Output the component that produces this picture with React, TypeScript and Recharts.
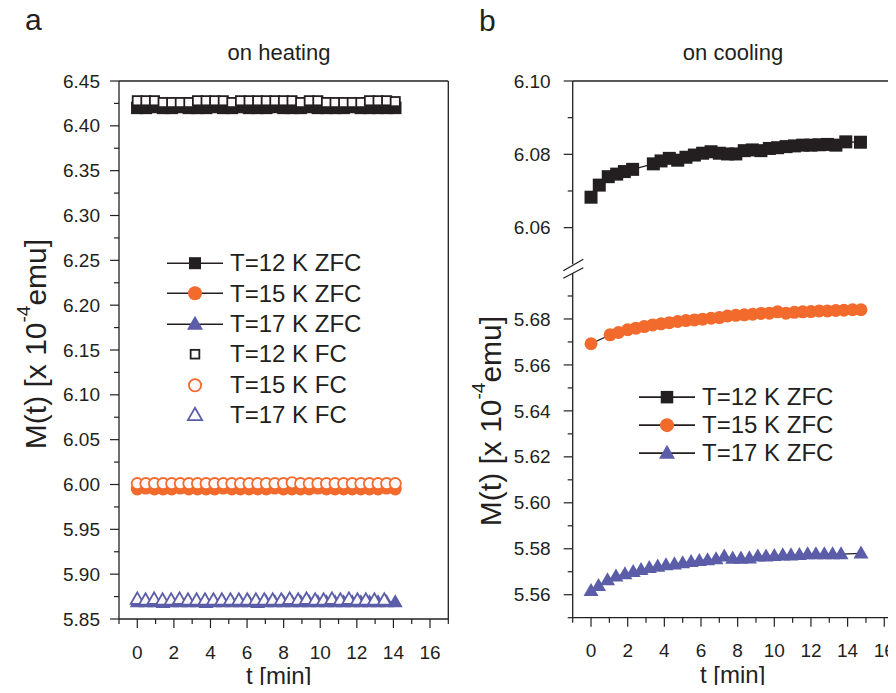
import React from "react";
import { LineChart, Line, XAxis, YAxis, ReferenceLine, Legend } from "recharts";

const INK = "#231f20";
const ORANGE = "#f26a2c";
const BLUE = "#5b5da8";
const PAPER = "#fbf9f9";
const FONT = "'Liberation Sans', Arial, Helvetica, sans-serif";

// shared minute ticks (labels only on even minutes)
const minuteTicks = [-1, 0, 1, 2, 3, 4, 5, 6, 7, 8, 9, 10, 11, 12, 13, 14, 15, 16, 17];

// panel a: on heating
const heatTicks = [
  5.85, 5.875, 5.9, 5.925, 5.95, 5.975, 6.0, 6.025, 6.05, 6.075, 6.1, 6.125, 6.15,
  6.175, 6.2, 6.225, 6.25, 6.275, 6.3, 6.325, 6.35, 6.375, 6.4, 6.425, 6.45,
];
const heatT = [
  0, 0.47, 0.94, 1.41, 1.88, 2.35, 2.82, 3.29, 3.76, 4.23, 4.7, 5.17, 5.64, 6.11, 6.58, 7.05,
  7.52, 7.99, 8.46, 8.93, 9.4, 9.87, 10.34, 10.81, 11.28, 11.75, 12.22, 12.69, 13.16, 13.63, 14.1,
];
const heatT17fc = [
  0, 0.45, 0.92, 1.38, 1.85, 2.31, 2.77, 3.24, 3.7, 4.16, 4.62, 5.09, 5.55, 6.01, 6.48, 6.94,
  7.4, 7.87, 8.33, 8.79, 9.25, 9.72, 10.18, 10.64, 11.1, 11.57, 12.03, 12.49, 12.96, 13.5,
];
const heatZfc12 = [
  6.42, 6.42, 6.421, 6.42, 6.42, 6.421, 6.42, 6.42, 6.42, 6.421, 6.42, 6.42, 6.421, 6.42, 6.42, 6.42,
  6.421, 6.42, 6.42, 6.42, 6.421, 6.42, 6.42, 6.42, 6.42, 6.421, 6.42, 6.42, 6.42, 6.42, 6.42,
];
const heatFc12 = [
  6.428, 6.428, 6.428, 6.426, 6.426, 6.426, 6.426, 6.428, 6.428, 6.428, 6.428, 6.426, 6.428, 6.428, 6.428, 6.428,
  6.428, 6.428, 6.428, 6.426, 6.428, 6.428, 6.426, 6.426, 6.426, 6.426, 6.426, 6.428, 6.428, 6.428, 6.427,
];
const heatZfc15 = [
  5.995, 5.996, 5.995, 5.995, 5.995, 5.996, 5.995, 5.995, 5.995, 5.995, 5.996, 5.995, 5.995, 5.995, 5.995, 5.995,
  5.996, 5.995, 5.995, 5.995, 5.995, 5.996, 5.995, 5.995, 5.995, 5.995, 5.995, 5.995, 5.995, 5.996, 5.995,
];
const heatFc15 = [
  6.001, 6.001, 6.001, 6.001, 6.001, 6.001, 6.001, 6.001, 6.001, 6.001, 6.001, 6.001, 6.001, 6.001, 6.001, 6.001,
  6.001, 6.001, 6.002, 6.001, 6.001, 6.001, 6.001, 6.001, 6.001, 6.001, 6.001, 6.001, 6.001, 6.001, 6.001,
];
const heatZfc17 = [
  5.869, 5.869, 5.869, 5.868, 5.869, 5.869, 5.869, 5.869, 5.868, 5.869, 5.869, 5.869, 5.869, 5.869, 5.868, 5.869,
  5.869, 5.869, 5.869, 5.869, 5.869, 5.869, 5.869, 5.869, 5.869, 5.869, 5.869, 5.869, 5.869, 5.869, 5.869,
];
const heatFc17 = [
  5.872, 5.871, 5.872, 5.871, 5.871, 5.872, 5.871, 5.871, 5.871, 5.871, 5.871, 5.871, 5.871, 5.871, 5.871, 5.871,
  5.871, 5.871, 5.872, 5.871, 5.872, 5.871, 5.871, 5.872, 5.871, 5.872, 5.871, 5.871, 5.871, 5.871,
];

// panel b: on cooling
const coolTopTicks = [6.06, 6.07, 6.08, 6.09, 6.1];
const coolLowTicks = [5.55, 5.56, 5.57, 5.58, 5.59, 5.6, 5.61, 5.62, 5.63, 5.64, 5.65, 5.66, 5.67, 5.68, 5.69];
const coolT12 = [
  0, 0.45, 0.94, 1.4, 1.82, 2.27, 3.4, 3.82, 4.27, 4.73, 5.18, 5.64, 6.09, 6.55, 7.0, 7.45,
  7.9, 8.36, 8.8, 9.27, 9.73, 10.18, 10.64, 11.1, 11.55, 12.0, 12.45, 12.9, 13.36, 13.9, 14.7,
];
const coolZfc12 = [
  6.0683, 6.0716, 6.0739, 6.0746, 6.0753, 6.0759, 6.0774, 6.0782, 6.0789, 6.0784, 6.0792, 6.0798, 6.0803, 6.0807, 6.0803, 6.0801,
  6.0801, 6.081, 6.0812, 6.081, 6.0816, 6.0818, 6.0821, 6.0823, 6.0825, 6.0825, 6.0826, 6.0827, 6.0825, 6.0834, 6.0833,
];
const coolT15 = [
  0, 1.04, 1.5, 2.0, 2.45, 2.9, 3.36, 3.82, 4.27, 4.73, 5.18, 5.64, 6.09, 6.55, 7.0, 7.45,
  7.9, 8.36, 8.82, 9.27, 9.73, 10.18, 10.64, 11.1, 11.55, 12.0, 12.45, 12.9, 13.36, 13.8, 14.27, 14.73,
];
const coolZfc15 = [
  5.6692, 5.6731, 5.6741, 5.6753, 5.676, 5.6767, 5.6774, 5.6779, 5.6784, 5.6789, 5.6793, 5.6796, 5.6799, 5.6803, 5.6806, 5.6813,
  5.6816, 5.6818, 5.6821, 5.6824, 5.6825, 5.6831, 5.6825, 5.6829, 5.6831, 5.6832, 5.6835, 5.6835, 5.6837, 5.6838, 5.684, 5.684,
];
const coolT17 = [
  0, 0.41, 0.9, 1.36, 1.85, 2.3, 2.73, 3.18, 3.64, 4.09, 4.55, 5.0, 5.46, 5.91, 6.36, 6.82,
  7.27, 7.73, 8.18, 8.64, 9.1, 9.55, 10.0, 10.46, 10.91, 11.37, 11.82, 12.27, 12.73, 13.18, 13.64, 14.73,
];
const coolZfc17 = [
  5.5617, 5.5639, 5.5664, 5.568, 5.569, 5.57, 5.5708, 5.5717, 5.5723, 5.5729, 5.5733, 5.5738, 5.5743, 5.5748, 5.5751, 5.5755,
  5.5767, 5.5758, 5.5758, 5.5759, 5.5767, 5.5767, 5.5769, 5.5772, 5.5772, 5.5774, 5.5777, 5.5777, 5.5777, 5.5777, 5.5777, 5.578,
];

type Shape = "square" | "circle" | "triangle";
interface Series {
  name: string;
  color: string;
  shape: Shape;
  filled: boolean;
  line: boolean;
  size: number;
  t: number[];
  v: number[];
}

const heatSeries: Series[] = [
  { name: "T=12 K ZFC", color: INK, shape: "square", filled: true, line: true, size: 12.5, t: heatT, v: heatZfc12 },
  { name: "T=15 K ZFC", color: ORANGE, shape: "circle", filled: true, line: true, size: 13, t: heatT, v: heatZfc15 },
  { name: "T=17 K ZFC", color: BLUE, shape: "triangle", filled: true, line: true, size: 15, t: heatT, v: heatZfc17 },
  { name: "T=12 K FC", color: INK, shape: "square", filled: false, line: false, size: 11, t: heatT, v: heatFc12 },
  { name: "T=15 K FC", color: ORANGE, shape: "circle", filled: false, line: false, size: 13, t: heatT, v: heatFc15 },
  { name: "T=17 K FC", color: BLUE, shape: "triangle", filled: false, line: false, size: 15, t: heatT17fc, v: heatFc17 },
];
const coolSeries: Series[] = [
  { name: "T=12 K ZFC", color: INK, shape: "square", filled: true, line: true, size: 13, t: coolT12, v: coolZfc12 },
  { name: "T=15 K ZFC", color: ORANGE, shape: "circle", filled: true, line: true, size: 13, t: coolT15, v: coolZfc15 },
  { name: "T=17 K ZFC", color: BLUE, shape: "triangle", filled: true, line: true, size: 15, t: coolT17, v: coolZfc17 },
];

const pts = (t: number[], v: number[]) => t.map((x, i) => ({ t: x, v: v[i] }));

function Marker({ cx, cy, shape, color, filled, size }: any) {
  if (cx == null || cy == null || isNaN(cx) || isNaN(cy)) return null;
  const sw = filled ? 0 : 1.8;
  const s = filled ? size : size - sw;
  const fill = filled ? color : PAPER;
  const stroke = filled ? "none" : color;
  if (shape === "square") {
    return <rect x={cx - s / 2} y={cy - s / 2} width={s} height={s} fill={fill} stroke={stroke} strokeWidth={sw} />;
  }
  if (shape === "circle") {
    return <circle cx={cx} cy={cy} r={s / 2} fill={fill} stroke={stroke} strokeWidth={sw} />;
  }
  const h = s * 0.87;
  return (
    <polygon
      points={`${cx},${cy - h * 0.6} ${cx + s / 2},${cy + h * 0.4} ${cx - s / 2},${cy + h * 0.4}`}
      fill={fill}
      stroke={stroke}
      strokeWidth={sw}
      strokeLinejoin="miter"
    />
  );
}

function renderLine(s: Series) {
  return (
    <Line
      key={s.name}
      data={pts(s.t, s.v)}
      dataKey="v"
      type="linear"
      stroke={s.line ? INK : "none"}
      strokeWidth={1.3}
      isAnimationActive={false}
      activeDot={false}
      legendType="none"
      dot={(p: any) => (
        <Marker key={`${s.name}-${p.index}`} cx={p.cx} cy={p.cy} shape={s.shape} color={s.color} filled={s.filled} size={s.size} />
      )}
    />
  );
}

function XTick(props: any) {
  const { x, y, payload } = props;
  const v = payload.value;
  const major = v % 2 === 0 && v >= 0 && v <= 16;
  return (
    <g>
      <line x1={x} x2={x} y1={y} y2={y + (major ? 9 : 5)} stroke={INK} strokeWidth={1.2} />
      {major && (
        <text x={x} y={y + 39.5} textAnchor="middle" fontSize={19} fill={INK} fontFamily={FONT}>
          {v}
        </text>
      )}
    </g>
  );
}

function YTick(props: any) {
  const { x, y, payload, isMajor, gap } = props;
  const v = payload.value;
  const major = isMajor(v);
  return (
    <g>
      <line x1={x - (major ? 9 : 5)} x2={x} y1={y} y2={y} stroke={INK} strokeWidth={1.2} />
      {major && (
        <text x={x - gap} y={y} dy="0.35em" textAnchor="end" fontSize={19} fill={INK} fontFamily={FONT}>
          {v.toFixed(2)}
        </text>
      )}
    </g>
  );
}

const heatMajor = (v: number) => Math.round(v * 1000) % 50 === 0;
const coolMajor = (v: number) => Math.round(v * 100) % 2 === 0;

function XTitle(props: any) {
  const vb = props.viewBox;
  return (
    <text x={vb.x + vb.width / 2 - 5} y={vb.y + 65} textAnchor="middle" fontSize={24} fill={INK} fontFamily={FONT}>
      t [min]
    </text>
  );
}

function YTitle({ cx, cy }: { cx: number; cy: number }) {
  return (
    <text
      x={cx}
      y={cy}
      transform={`rotate(-90 ${cx} ${cy})`}
      textAnchor="middle"
      dominantBaseline="central"
      fontSize={30}
      fill={INK}
      fontFamily={FONT}
    >
      M(t) [x 10
      <tspan dy={-12} fontSize={19}>-4</tspan>
      <tspan dy={12}>emu]</tspan>
    </text>
  );
}

function LegendBox({ items, rowH }: { items: Series[]; rowH: number }) {
  return (
    <div style={{ fontFamily: FONT, fontSize: 24, color: INK }}>
      {items.map((s) => (
        <div key={s.name} style={{ display: "flex", alignItems: "center", height: rowH }}>
          <svg width={60} height={rowH} style={{ display: "block" }}>
            {s.line && <line x1={2} x2={58} y1={rowH / 2} y2={rowH / 2} stroke={INK} strokeWidth={1.6} />}
            <Marker cx={30} cy={rowH / 2} shape={s.shape} color={s.color} filled={s.filled} size={s.shape === "square" ? s.size - 0.5 : s.size + 1} />
          </svg>
          <span style={{ marginLeft: 5, lineHeight: 1, whiteSpace: "nowrap" }}>{s.name}</span>
        </div>
      ))}
    </div>
  );
}

const axisLine = { stroke: INK, strokeWidth: 1.3 };

export default function App() {
  return (
    <div
      style={{
        position: "relative",
        width: 896,
        height: 693,
        margin: -8,
        overflow: "hidden",
        background: "#fff",
        fontFamily: FONT,
      }}
    >
      {/* panel a */}
      <div style={{ position: "absolute", left: 0, top: 0 }}>
        <LineChart width={460} height={693} margin={{ top: 81, right: 11.7, bottom: 0, left: 0 }}>
          <XAxis
            dataKey="t"
            type="number"
            domain={[-1, 17]}
            allowDataOverflow
            ticks={minuteTicks}
            interval={0}
            height={74}
            tickSize={0}
            tickMargin={0}
            tickLine={false}
            axisLine={axisLine}
            tick={(p: any) => <XTick {...p} />}
            label={(p: any) => <XTitle {...p} />}
          />
          <YAxis
            type="number"
            domain={[5.85, 6.45]}
            allowDataOverflow
            ticks={heatTicks}
            interval={0}
            width={119}
            tickSize={0}
            tickMargin={0}
            tickLine={false}
            axisLine={axisLine}
            tick={(p: any) => <YTick {...p} isMajor={heatMajor} gap={19} />}
            label={(p: any) => <YTitle cx={p.viewBox.x + 35} cy={p.viewBox.y + p.viewBox.height / 2 - 6} />}
          />
          <ReferenceLine y={6.45} stroke={INK} strokeWidth={1.3} ifOverflow="visible" />
          <ReferenceLine x={17} stroke={INK} strokeWidth={1.3} ifOverflow="visible" />
          {heatSeries.map(renderLine)}
          <Legend
            layout="vertical"
            align="center"
            verticalAlign="middle"
            wrapperStyle={{ left: 165, top: 248, width: 240 }}
            content={() => <LegendBox items={heatSeries} rowH={30.4} />}
          />
        </LineChart>
      </div>

      {/* panel b, upper segment */}
      <div style={{ position: "absolute", left: 460, top: 0 }}>
        <LineChart width={450} height={265} margin={{ top: 81, right: 7.4, bottom: 0.7, left: 0 }}>
          <XAxis dataKey="t" type="number" domain={[-1, 17]} allowDataOverflow hide />
          <YAxis
            type="number"
            domain={[6.05, 6.1]}
            allowDataOverflow
            ticks={coolTopTicks}
            interval={0}
            width={112.7}
            tickSize={0}
            tickMargin={0}
            tickLine={false}
            axisLine={axisLine}
            tick={(p: any) => <YTick {...p} isMajor={coolMajor} gap={22} />}
          />
          <ReferenceLine y={6.1} stroke={INK} strokeWidth={1.3} ifOverflow="visible" />
          {coolSeries.slice(0, 1).map(renderLine)}
        </LineChart>
      </div>

      {/* panel b, lower segment */}
      <div style={{ position: "absolute", left: 460, top: 265 }}>
        <LineChart width={450} height={428} margin={{ top: 8, right: 7.4, bottom: 0, left: 0 }}>
          <XAxis
            dataKey="t"
            type="number"
            domain={[-1, 17]}
            allowDataOverflow
            ticks={minuteTicks}
            interval={0}
            height={75.3}
            tickSize={0}
            tickMargin={0}
            tickLine={false}
            axisLine={axisLine}
            tick={(p: any) => <XTick {...p} />}
            label={(p: any) => <XTitle {...p} />}
          />
          <YAxis
            type="number"
            domain={[5.55, 5.7]}
            allowDataOverflow
            ticks={coolLowTicks}
            interval={0}
            width={112.7}
            tickSize={0}
            tickMargin={0}
            tickLine={false}
            axisLine={axisLine}
            tick={(p: any) => <YTick {...p} isMajor={coolMajor} gap={22} />}
            label={(p: any) => <YTitle cx={p.viewBox.x + 30} cy={156} />}
          />
          {coolSeries.slice(1).map(renderLine)}
          <Legend
            layout="vertical"
            align="center"
            verticalAlign="middle"
            wrapperStyle={{ left: 177, top: 117.5, width: 240 }}
            content={() => <LegendBox items={coolSeries} rowH={28.3} />}
          />
        </LineChart>
      </div>

      {/* break marks, panel letters and titles */}
      <svg width={896} height={693} style={{ position: "absolute", left: 0, top: 0, pointerEvents: "none" }}>
        <line x1={563.3} y1={270.7} x2={583.3} y2={259.3} stroke={INK} strokeWidth={1.3} />
        <line x1={563.3} y1={278.3} x2={583.3} y2={267.7} stroke={INK} strokeWidth={1.3} />
        <text x={25} y={30} fontSize={30} fill={INK} fontFamily={FONT}>a</text>
        <text x={479} y={31} fontSize={30} fill={INK} fontFamily={FONT}>b</text>
        <text x={279} y={60} textAnchor="middle" fontSize={22} fill={INK} fontFamily={FONT}>on heating</text>
        <text x={733} y={60} textAnchor="middle" fontSize={22} fill={INK} fontFamily={FONT}>on cooling</text>
      </svg>
    </div>
  );
}
